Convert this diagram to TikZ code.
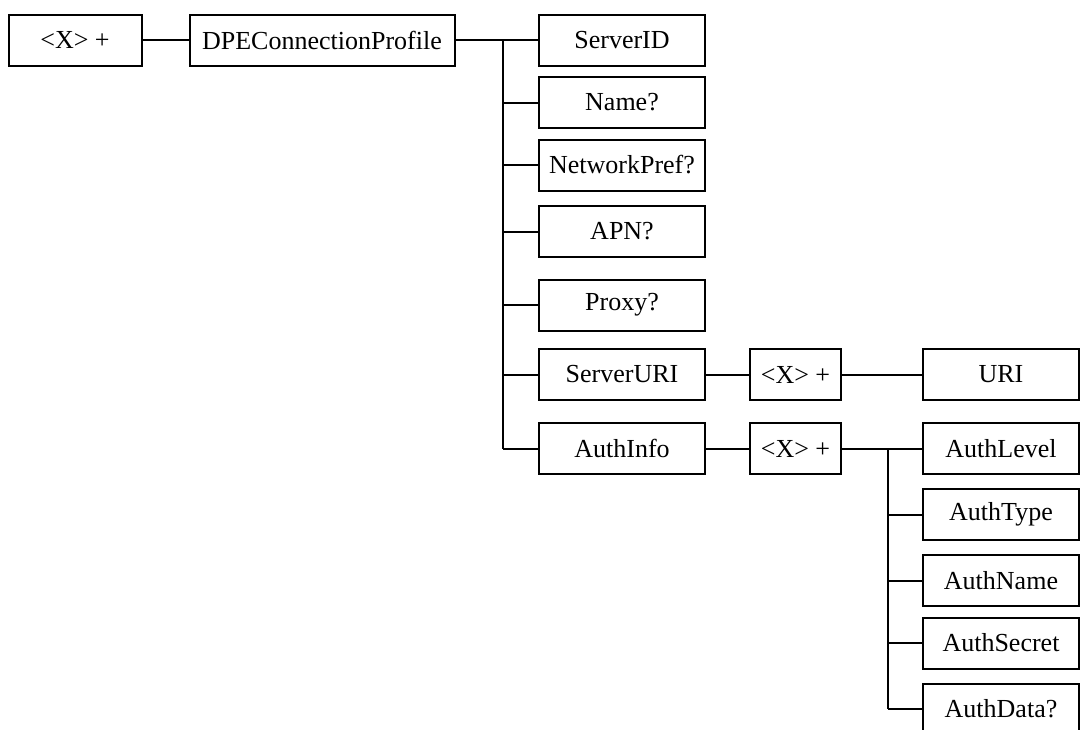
\documentclass[tikz,border=0pt]{standalone}
\usepackage{fontspec}
\setmainfont{Liberation Serif}
\begin{document}
\begin{tikzpicture}[x=0.5pt, y=-0.5pt, line width=1pt,
  box/.style={draw, inner sep=0pt, minimum height=25.5pt,
    font=\fontsize{13}{15}\selectfont}]
  % Page
  \useasboundingbox (0,0) rectangle (1080,729);
  \clip (0,0) rectangle (1080,729);

  % Root and profile
  \node[box, minimum width=66.5pt] (root) at (75,40) {<X> +};
  \node[box, minimum width=132.5pt] (profile) at (322,40) {DPEConnectionProfile};
  \draw (root) -- (profile);

  % Children of the profile
  \foreach \n/\txt/\y in {sid/ServerID/40, name/Name?/102.5, netpref/NetworkPref?/165,
      apn/APN?/231.5, proxy/Proxy?/305, suri/ServerURI/374.5, auth/AuthInfo/448.5}
    \node[box, minimum width=83pt] (\n) at (622,\y) {\txt};
  \coordinate (t1) at (503,40);
  \draw (profile) -- (sid);
  \draw (t1) -- (t1 |- auth.west);
  \foreach \n in {name,netpref,apn,proxy,suri,auth}
    \draw (t1 |- \n.west) -- (\n.west);

  % ServerURI branch
  \node[box, minimum width=45.5pt] (xuri) at (795.5,374.5) {<X> +};
  \node[box, minimum width=78pt] (uri) at (1001,374.5) {URI};
  \draw (suri) -- (xuri) -- (uri);

  % AuthInfo branch
  \node[box, minimum width=45.5pt] (xauth) at (795.5,448.5) {<X> +};
  \draw (auth) -- (xauth);
  \foreach \n/\txt/\y in {alevel/AuthLevel/448.5, atype/AuthType/514.5,
      aname/AuthName/580.5, asecret/AuthSecret/643, adata/AuthData?/709}
    \node[box, minimum width=78pt] (\n) at (1001,\y) {\txt};
  \coordinate (t2) at (888,448.5);
  \draw (xauth) -- (alevel);
  \draw (t2) -- (t2 |- adata.west);
  \foreach \n in {atype,aname,asecret,adata}
    \draw (t2 |- \n.west) -- (\n.west);
\end{tikzpicture}
\end{document}
